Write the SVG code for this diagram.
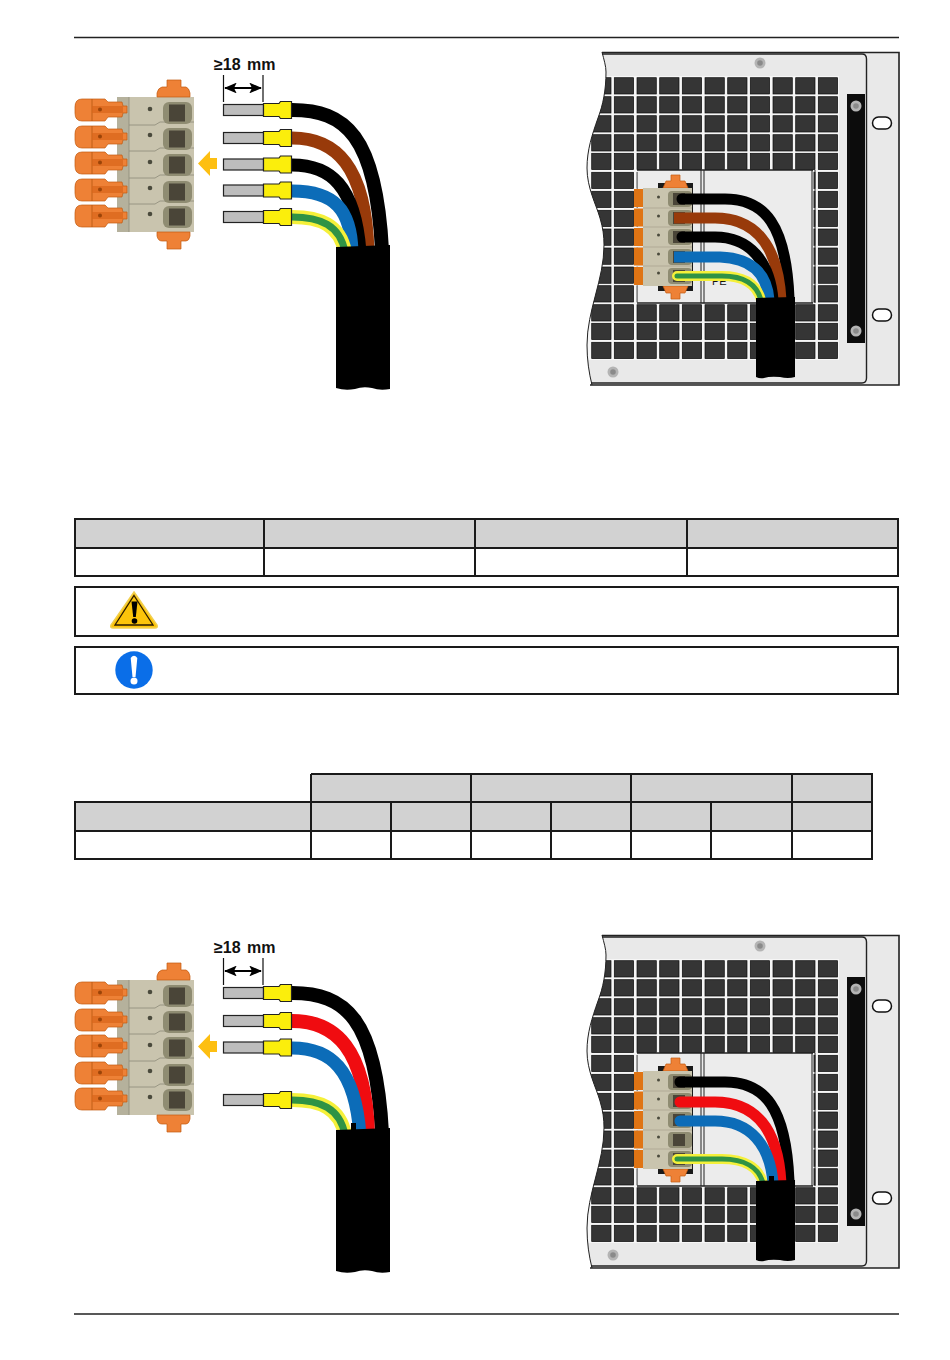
<svg xmlns="http://www.w3.org/2000/svg" width="950" height="1360" viewBox="0 0 950 1360">
<style>
.tl{stroke:#1a1a1a;stroke-width:2;fill:none}
.hd{fill:#d2d2d2}
.w{fill:none;stroke-linecap:butt}
.r{stroke-linecap:round}
.sq{fill:#353535;stroke:#0c0c0c;stroke-width:.7}
.or{fill:#ee8136;stroke:#c25a10;stroke-width:.7}
.dk{fill:#d9651a}
.dot{fill:#4a4a3c}
.dim{font-family:"Liberation Sans",Arial,sans-serif;font-size:16px;font-weight:bold;fill:#111;word-spacing:2px}
.lb{font-family:"Liberation Sans",Arial,sans-serif;font-size:11px;fill:#111}
</style>
<defs>
<marker id="ah" markerWidth="7" markerHeight="6" refX="6.500" refY="3" orient="auto-start-reverse" markerUnits="strokeWidth"><path d="M0 0L7 3L0 6L1.500 3Z" fill="#000"/></marker>
<clipPath id="wavy"><path d="M602 52C604 60 606 66 606 72C606 90 603 105 598 118C592 135 587 150 587 168C587 188 596 204 600 218C603 228 604 236 604 245C604 280 587 310 587 345C587 360 589 373 592 385H900V52Z"/></clipPath>
<g id="sqrow">
<rect class="sq" x="591.700" width="19.300" height="16.300"/><rect class="sq" x="614.300" width="19.300" height="16.300"/><rect class="sq" x="637" width="19.300" height="16.300"/><rect class="sq" x="659.700" width="19.300" height="16.300"/><rect class="sq" x="682.300" width="19.300" height="16.300"/><rect class="sq" x="705" width="19.300" height="16.300"/><rect class="sq" x="727.700" width="19.300" height="16.300"/><rect class="sq" x="750.300" width="19.300" height="16.300"/><rect class="sq" x="773" width="19.300" height="16.300"/><rect class="sq" x="795.700" width="19.300" height="16.300"/><rect class="sq" x="818.300" width="19.300" height="16.300"/>
</g>
<g id="screw"><circle r="5.500" fill="#b4b4b4"/><circle r="2.800" fill="#8a8a8a"/></g>
<g id="panel">
<rect x="585" y="52" width="315" height="334" fill="#e9e9e9" clip-path="url(#wavy)"/>
<g clip-path="url(#wavy)">
<rect x="585" y="76" width="254" height="284" fill="#f6f6f6"/>
<use href="#sqrow" y="77.700"/><use href="#sqrow" y="96.700"/><use href="#sqrow" y="115.700"/><use href="#sqrow" y="134.700"/><use href="#sqrow" y="153.300"/><use href="#sqrow" y="172.300"/><use href="#sqrow" y="191.300"/><use href="#sqrow" y="210.300"/><use href="#sqrow" y="229"/><use href="#sqrow" y="248"/><use href="#sqrow" y="267"/><use href="#sqrow" y="285.700"/><use href="#sqrow" y="304.700"/><use href="#sqrow" y="323.300"/><use href="#sqrow" y="342.300"/>
</g>
<rect x="637.500" y="170" width="176" height="133" fill="#ececec"/>
<path d="M637 170H813M637 303H813" stroke="#222" stroke-width="1.600" fill="none"/>
<path d="M701 170V303M704 170V303M812 170V303M815 170V303" stroke="#222" stroke-width="1" fill="none"/>
<path d="M602 52.500H899V385H590" fill="none" stroke="#222" stroke-width="1.600"/>
<path d="M602 54H862Q866.500 54 866.500 59V378Q866.500 383 862 383H591" fill="none" stroke="#222" stroke-width="1.400"/>
<path d="M602 52C604 60 606 66 606 72C606 90 603 105 598 118C592 135 587 150 587 168C587 188 596 204 600 218C603 228 604 236 604 245C604 280 587 310 587 345C587 360 589 373 592 385" fill="none" stroke="#222" stroke-width="1"/>
<rect x="847" y="94" width="18" height="249" fill="#0c0c0c"/>
<use href="#screw" x="856" y="106"/><use href="#screw" x="856" y="331"/><use href="#screw" x="760" y="63"/><use href="#screw" x="613" y="372"/>
<rect x="872.500" y="117" width="19" height="12" rx="6" fill="#fff" stroke="#111" stroke-width="1.500"/>
<rect x="872.500" y="309" width="19" height="12" rx="6" fill="#fff" stroke="#111" stroke-width="1.500"/>
<rect x="658" y="183" width="35" height="108" fill="#1a1a1a"/>
<path d="M663 188L666 181H671V175H680V181H685L688 188Z" class="or"/>
<path d="M663 286L666 293H671V299H680V293H685L688 286Z" class="or"/>
<rect x="643" y="188" width="49" height="98" fill="#c9c4ae"/>
<rect x="634" y="189" width="9" height="18" fill="#df7414"/><rect x="634" y="208.500" width="9" height="18" fill="#df7414"/><rect x="634" y="228" width="9" height="18" fill="#df7414"/><rect x="634" y="247.500" width="9" height="18" fill="#df7414"/><rect x="634" y="267" width="9" height="18" fill="#df7414"/>
<path d="M643 208H692M643 227H692M643 247H692M643 266H692" stroke="#a6a28e" stroke-width=".7"/>
<rect x="668" y="191" width="24" height="16" rx="4" fill="#8f8c72"/><rect x="668" y="210" width="24" height="16" rx="4" fill="#8f8c72"/><rect x="668" y="229" width="24" height="16" rx="4" fill="#8f8c72"/><rect x="668" y="249" width="24" height="16" rx="4" fill="#8f8c72"/><rect x="668" y="268" width="24" height="16" rx="4" fill="#8f8c72"/>
<rect x="673" y="193" width="12" height="12" fill="#4a4538"/><rect x="673" y="212" width="12" height="12" fill="#4a4538"/><rect x="673" y="231" width="12" height="12" fill="#4a4538"/><rect x="673" y="251" width="12" height="12" fill="#4a4538"/><rect x="673" y="270" width="12" height="12" fill="#4a4538"/>
<circle cx="658.500" cy="197" r="1.500" class="dot"/><circle cx="658.500" cy="216" r="1.500" class="dot"/><circle cx="658.500" cy="235" r="1.500" class="dot"/><circle cx="658.500" cy="254" r="1.500" class="dot"/><circle cx="658.500" cy="273" r="1.500" class="dot"/>
</g>
<g id="cable"><path d="M336 247L390 245V389Q380 391 372 388Q363 386 355 389Q345 391 336 388Z" fill="#000"/></g>
<g id="smallcable"><path d="M756 298L795 297V377Q788 379 780 377Q770 376 764 378Q760 379 756 377Z" fill="#000"/></g>
<g id="ferrule">
<rect x="223.500" y="-5.500" width="40" height="11" fill="#bdbdbd" stroke="#222" stroke-width="1.200"/>
<path d="M263.500 -6.500H279L280.500 -8.500H291.500V8.500H280.500L279 6.500H263.500Z" fill="#fbee0c" stroke="#222" stroke-width="1.200"/>
</g>
<g id="hand">
<path d="M82 1H105L108 4H122L123 8H127V15H123L122 19H108L105 23H82Q75 23 75 15V9Q75 1 82 1Z" class="or"/>
<path d="M92 1V23" stroke="#b4560f" stroke-width=".8"/>
<path d="M92 8H123V15H92Z" class="dk" opacity=".7"/>
<circle cx="100" cy="11.500" r="2" fill="#9b4408"/>
</g>
<g id="term">
<rect x="163" y="0" width="29" height="22" rx="6" fill="#8f8c72"/>
<rect x="169" y="2.500" width="16" height="17" fill="#4a4538"/>
</g>
<g id="conn">
<rect x="117" y="97" width="77" height="135" fill="#c9c4ae"/>
<rect x="117" y="97" width="12" height="135" fill="#b5b19c"/>
<path d="M129 97V232" stroke="#8d8a78" stroke-width=".8"/>
<path d="M129 125H155L160 122H194M129 151H155L160 148H194M129 178H155L160 175H194M129 204H155L160 201H194" fill="none" stroke="#8d8a78" stroke-width=".8"/>
<use href="#hand" y="98"/><use href="#hand" y="125"/><use href="#hand" y="151"/><use href="#hand" y="178"/><use href="#hand" y="204"/>
<use href="#term" y="102"/><use href="#term" y="128"/><use href="#term" y="154"/><use href="#term" y="181"/><use href="#term" y="206"/>
<circle cx="150" cy="109" r="2.300" class="dot"/><circle cx="150" cy="135" r="2.300" class="dot"/><circle cx="150" cy="162" r="2.300" class="dot"/><circle cx="150" cy="188" r="2.300" class="dot"/><circle cx="150" cy="214" r="2.300" class="dot"/>
<path d="M157 97V93Q158 88 162 87H167V80H181V87H186Q189 88 190 93V97Z" class="or"/>
<path d="M157 232V236Q158 241 162 241H167V249H181V241H186Q189 241 190 236V232Z" class="or"/>
<path d="M198 163.500L210 151V158H217V169H210V176Z" fill="#fdbf12"/>
</g>
<g id="dimn">
<text class="dim" x="214" y="70">≥18 mm</text>
<path d="M223.500 75V102M263 75V102" stroke="#111" stroke-width="1.200"/>
<path d="M225 88H261" stroke="#000" stroke-width="1.800" marker-start="url(#ah)" marker-end="url(#ah)"/>
</g>
</defs>
<g id="page-rules">
<path d="M74 37.500H899M74 1314H899" stroke="#222" stroke-width="1.600"/>
</g>
<g id="figure-top-left">
<use href="#conn"/><use href="#dimn"/>
<g id="wires-top-left">
<path class="w" d="M292 110C345 110 376 135 382 250" stroke="#000" stroke-width="14"/>
<path class="w" d="M292 138C335 138 366 165 368 252" stroke="#983a0a" stroke-width="13"/>
<path class="w" d="M292 165C330 165 355 185 360 252" stroke="#000" stroke-width="13"/>
<path class="w" d="M292 191C335 191 351 210 352 252" stroke="#0c6cb8" stroke-width="13"/>
<path class="w" d="M292 217C320 217 340 225 345 252" stroke="#f5f03a" stroke-width="14"/>
<path class="w" d="M292 217C320 217 340 225 345 252" stroke="#2f9345" stroke-width="7"/>
</g>
<use href="#cable"/>
<use href="#ferrule" y="110"/><use href="#ferrule" y="138"/><use href="#ferrule" y="164.500"/><use href="#ferrule" y="190.500"/><use href="#ferrule" y="217"/>
</g>
<g id="figure-top-right">
<use href="#panel"/>
<text class="lb" x="715" y="202">L1</text><text class="lb" x="715" y="222">L2</text><text class="lb" x="713" y="241">L3</text><text class="lb" x="712" y="285">PE</text>
<g id="wires-top-right">
<path class="w r" d="M682 199H725C765 199 786 225 789 298" stroke="#000" stroke-width="11"/>
<path class="w" d="M674 218H715C755 218 778 245 781 300" stroke="#983a0a" stroke-width="11"/>
<path class="w r" d="M682 237H715C750 237 770 262 773 300" stroke="#000" stroke-width="11"/>
<path class="w" d="M674 257H720C750 258 767 272 769 300" stroke="#0c6cb8" stroke-width="11"/>
<path class="w r" d="M677 276H722C745 276 757 285 761 300" stroke="#f5f03a" stroke-width="10"/>
<path class="w r" d="M677 276H722C745 276 757 285 761 300" stroke="#2f9345" stroke-width="5"/>
</g>
<use href="#smallcable"/>
</g>
<g id="table-1">
<rect class="hd" x="75" y="519" width="823" height="29"/>
<path class="tl" d="M75 519H898V576H75ZM75 548H898M264 519V576M475 519V576M687 519V576"/>
</g>
<g id="warning-box">
<rect class="tl" x="75" y="587" width="823" height="49"/>
<path d="M134 592L157 625Q158 628 155 628H113Q110 628 111 625Z" fill="#fcc40a" stroke="#f2d050" stroke-width="1.500"/>
<path d="M134 595.500L153 625H115Z" fill="none" stroke="#2a1a00" stroke-width="1.300"/>
<path d="M131.500 601.500H137.500L135.800 617H133.200Z" fill="#000"/><circle cx="134.500" cy="621" r="2.800" fill="#000"/>
</g>
<g id="info-box">
<rect class="tl" x="75" y="647" width="823" height="47"/>
<circle cx="134" cy="670" r="18.700" fill="#0a6ee8"/>
<path d="M130.700 658Q134 653.500 137.300 658L135.500 677H132.500Z" fill="#fff"/><circle cx="134" cy="681" r="3.500" fill="#fff"/>
</g>
<g id="table-2">
<rect class="hd" x="75" y="802" width="797" height="29"/>
<rect class="hd" x="311" y="774" width="561" height="28"/>
<path class="tl" d="M311 774H872V859H75V802H872M75 831H872M311 774V859M471 774V859M631 774V859M792 774V859M391 802V859M551 802V859M711 802V859"/>
</g>
<g id="figure-bottom-left">
<use href="#conn" y="883"/><use href="#dimn" y="883"/>
<g id="wires-bottom-left">
<path class="w" d="M292 993C345 993 376 1018 382 1133" stroke="#000" stroke-width="14"/>
<path class="w" d="M292 1021C335 1021 366 1048 368 1135" stroke="#f00c10" stroke-width="14"/>
<path class="w" d="M292 1048C330 1048 355 1068 360 1135" stroke="#0c6cb8" stroke-width="13"/>
<path class="w" d="M292 1100C320 1100 340 1108 345 1135" stroke="#f5f03a" stroke-width="14"/>
<path class="w" d="M292 1100C320 1100 340 1108 345 1135" stroke="#2f9345" stroke-width="7"/>
</g>
<path d="M351 1123H356V1135H351Z" fill="#000"/>
<use href="#cable" y="883"/>
<use href="#ferrule" y="993"/><use href="#ferrule" y="1021"/><use href="#ferrule" y="1047.500"/>
<use href="#ferrule" y="1100"/>
</g>
<g id="figure-bottom-right">
<use href="#panel" y="883"/>
<g id="wires-bottom-right">
<path class="w r" d="M680 1082H725C765 1082 786 1108 789 1181" stroke="#000" stroke-width="11"/>
<path class="w r" d="M680 1102H715C755 1102 778 1128 781 1183" stroke="#f00c10" stroke-width="11"/>
<path class="w r" d="M680 1121H715C750 1121 770 1145 773 1183" stroke="#0c6cb8" stroke-width="11"/>
<path class="w r" d="M677 1159H722C745 1159 759 1168 763 1183" stroke="#f5f03a" stroke-width="10"/>
<path class="w r" d="M677 1159H722C745 1159 759 1168 763 1183" stroke="#2f9345" stroke-width="5"/>
</g>
<path d="M769 1176H774V1186H769Z" fill="#000"/>
<use href="#smallcable" y="883"/>
</g>
</svg>
